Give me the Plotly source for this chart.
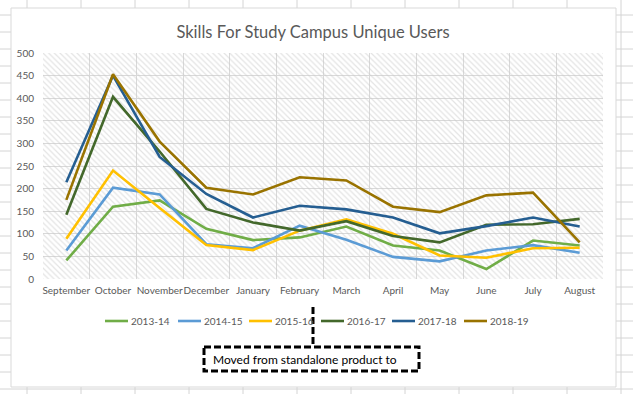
import plotly.graph_objects as go

months = ["September", "October", "November", "December", "January", "February",
          "March", "April", "May", "June", "July", "August"]
series_names = ["2013-14", "2014-15", "2015-16", "2016-17", "2017-18", "2018-19"]
s_2013_14 = [41, 160, 174, 111, 86, 92, 116, 74, 63, 22, 85, 74]
s_2014_15 = [63, 202, 187, 77, 68, 118, 87, 49, 39, 63, 75, 58]
s_2015_16 = [89, 240, 157, 75, 64, 107, 132, 100, 52, 47, 68, 69]
s_2016_17 = [142, 403, 282, 155, 125, 107, 128, 95, 81, 120, 121, 133]
s_2017_18 = [214, 450, 270, 188, 136, 162, 154, 136, 101, 117, 136, 116]
s_2018_19 = [175, 453, 304, 202, 187, 225, 218, 160, 148, 185, 191, 81]
y_ticks = [0, 50, 100, 150, 200, 250, 300, 350, 400, 450, 500]
title_text = "Skills For Study Campus Unique Users"
note_text = "Moved from standalone product to"

series_values = [s_2013_14, s_2014_15, s_2015_16, s_2016_17, s_2017_18, s_2018_19]
colors = ["#70AD47", "#5B9BD5", "#FFC000", "#43682B", "#255E91", "#997300"]

W, H = 633, 394
L, R, T, B = 43, 603, 53, 279
FONT = "Lato"
GRAY = "#595959"


def px(x):
    return (x - L) / (R - L)


def py(y):
    return (B - y) / (B - T)


fig = go.Figure()

# hatched plot-area fill
fig.add_trace(go.Bar(
    x=months, y=[y_ticks[-1]] * len(months), width=1,
    marker=dict(color="rgba(0,0,0,0)", line=dict(width=0),
                pattern=dict(shape="\\", fgcolor="#c8c8c8", bgcolor="rgba(0,0,0,0)",
                             size=4, solidity=0.3)),
    hoverinfo="skip", showlegend=False))

for name, vals, col in zip(series_names, series_values, colors):
    fig.add_trace(go.Scatter(x=months, y=vals, mode="lines", name=name,
                             line=dict(color=col, width=2.6), showlegend=False))

shapes = []
grid_col = "#d4d4d4"
# spreadsheet gridlines
for k in range(12):
    x = 27 + 54 * k
    shapes.append(dict(type="line", xref="paper", yref="paper", x0=px(x), x1=px(x),
                       y0=py(0), y1=py(H), line=dict(color=grid_col, width=1), layer="below"))
for k in range(23):
    y = 15 + 17 * k
    shapes.append(dict(type="line", xref="paper", yref="paper", x0=px(0), x1=px(W),
                       y0=py(y), y1=py(y), line=dict(color=grid_col, width=1), layer="below"))
# chart area
shapes.append(dict(type="rect", xref="paper", yref="paper", x0=px(11), x1=px(616),
                   y0=py(8), y1=py(387), fillcolor="white",
                   line=dict(color="#d9d9d9", width=1), layer="below"))

# manual legend
leg_x = [105, 178, 249, 321, 392, 464]
leg_y = 321
annotations = []
for lx, name, col in zip(leg_x, series_names, colors):
    shapes.append(dict(type="line", xref="paper", yref="paper", x0=px(lx), x1=px(lx + 23),
                       y0=py(leg_y), y1=py(leg_y), line=dict(color=col, width=2.6)))
    annotations.append(dict(xref="paper", yref="paper", x=px(lx + 24), y=py(leg_y),
                            xanchor="left", yanchor="middle", text=name, showarrow=False,
                            font=dict(family=FONT, size=10, color=GRAY)))

# callout box + connector
shapes.append(dict(type="line", xref="paper", yref="paper", x0=px(313), x1=px(313),
                   y0=py(307), y1=py(347), line=dict(color="black", width=3, dash="7px,3px")))
shapes.append(dict(type="rect", xref="paper", yref="paper", x0=px(204), x1=px(419),
                   y0=py(347), y1=py(371), fillcolor="white",
                   line=dict(color="black", width=3, dash="7px,3px")))
annotations.append(dict(xref="paper", yref="paper", x=px(211), y=py(359),
                        xanchor="left", yanchor="middle", text=note_text, showarrow=False,
                        font=dict(family=FONT, size=12, color="black")))

fig.update_layout(
    width=W, height=H,
    margin=dict(l=L, r=W - R, t=T, b=H - B, pad=0),
    paper_bgcolor="white", plot_bgcolor="white",
    barmode="overlay", bargap=0,
    title=dict(text=title_text, x=313 / W, xanchor="center", xref="container",
               y=1 - 32 / H, yanchor="middle", yref="container",
               font=dict(family=FONT, size=16.5, color=GRAY)),
    xaxis=dict(type="category", range=[-0.5, 11.5], tickson="boundaries",
               showgrid=True, gridcolor="#d9d9d9", gridwidth=1, ticks="",
               showline=False, zeroline=False, fixedrange=True, tickangle=0,
               tickfont=dict(family=FONT, size=10, color=GRAY), ticklabelstandoff=4),
    yaxis=dict(range=[0, 500], tickvals=y_ticks, showgrid=True, gridcolor="#d9d9d9",
               gridwidth=1, ticks="", showline=False, zeroline=False, fixedrange=True,
               tickfont=dict(family=FONT, size=10, color=GRAY), ticklabelstandoff=8),
    shapes=shapes, annotations=annotations, showlegend=False,
)

fig.write_html("out.html", config={"displayModeBar": False, "staticPlot": True},
               post_script="document.body.style.margin='0';document.body.style.overflow='hidden';")
